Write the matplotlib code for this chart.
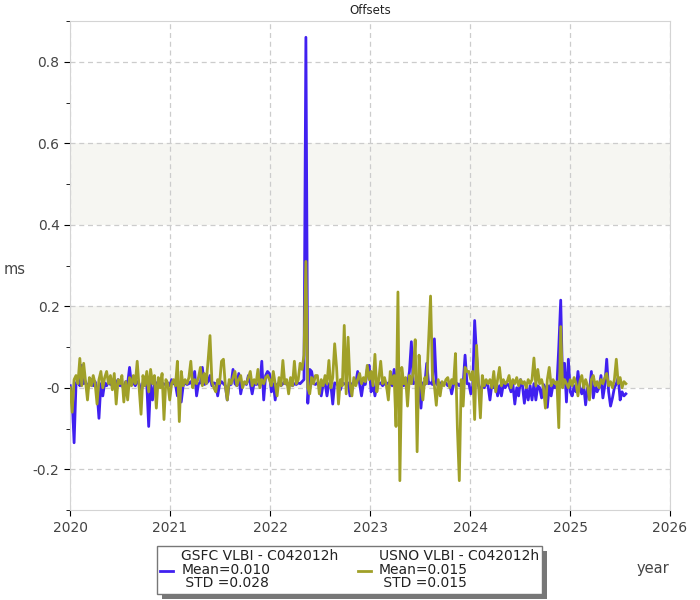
import numpy as np
import pandas as pd
import matplotlib
matplotlib.use("Agg")
import matplotlib.pyplot as plt
from matplotlib.patches import Rectangle
from matplotlib.ticker import FixedLocator, FixedFormatter

# weekly offsets (ms), one list per year
gsfc_2020 = [0.005, -0.030, -0.135, 0.010, 0.020, 0.005, 0.055, 0.010, 0.015, 0.000,
             0.012, 0.020, 0.005, 0.015, -0.010, -0.075, 0.010, -0.020, 0.012, 0.005,
             0.015, 0.008, 0.010, 0.000, 0.012, 0.020, 0.005, 0.010, -0.005, 0.015,
             0.010, 0.050, 0.008, 0.012, 0.005, 0.015, 0.010, -0.010, 0.012, 0.005,
             0.010, -0.095, 0.012, -0.030, 0.008, 0.010, 0.015, 0.005, 0.012, 0.008,
             0.010, 0.012]
gsfc_2021 = [0.005, 0.020, 0.010, 0.008, -0.020, 0.010, -0.035, 0.005, 0.012, 0.008,
             0.010, 0.015, 0.005, 0.040, -0.020, 0.010, 0.012, 0.050, 0.008, 0.010,
             0.015, 0.030, 0.005, 0.012, 0.010, -0.020, 0.008, 0.015, 0.010, 0.005,
             -0.030, 0.012, 0.008, 0.045, 0.010, 0.005, 0.035, -0.015, 0.010, 0.012,
             0.008, 0.030, 0.010, -0.015, 0.012, 0.008, 0.010, 0.005, 0.065, -0.030,
             0.030, 0.040]
gsfc_2022 = [0.035, -0.010, 0.010, -0.030, 0.008, 0.012, 0.005, 0.010, 0.015, 0.008,
             0.010, 0.012, 0.005, 0.010, 0.008, 0.012, 0.010, 0.015, 0.020, 0.860,
             -0.038, 0.045, 0.040, 0.010, 0.008, 0.012, 0.010, -0.020, 0.008, 0.012,
             -0.020, 0.010, 0.008, -0.040, 0.012, 0.010, 0.005, -0.005, 0.012, 0.010,
             0.008, 0.012, -0.020, 0.010, 0.008, 0.012, 0.040, 0.010, -0.020, 0.012,
             0.008, 0.045]
gsfc_2023 = [0.055, -0.010, 0.012, -0.020, 0.008, 0.010, 0.012, 0.005, 0.010, 0.008,
             0.012, 0.010, 0.005, 0.045, 0.010, 0.008, 0.012, 0.010, 0.005, 0.012,
             0.008, 0.040, 0.113, 0.010, 0.012, 0.008, 0.010, -0.050, 0.012, 0.008,
             0.060, 0.010, 0.012, 0.008, 0.120, 0.010, 0.005, 0.012, 0.008, 0.010,
             0.012, 0.005, 0.010, -0.015, 0.008, 0.012, 0.010, 0.005, 0.012, 0.008,
             0.080, 0.010]
gsfc_2024 = [0.010, -0.015, 0.005, 0.165, 0.080, 0.005, -0.010, 0.008, 0.000, 0.010,
             0.005, -0.030, 0.008, 0.000, 0.010, -0.020, 0.005, -0.020, 0.008, 0.000,
             0.010, 0.005, -0.010, 0.008, -0.040, 0.000, -0.020, 0.020, 0.005, -0.038,
             0.000, -0.030, 0.005, -0.030, 0.010, -0.030, 0.005, 0.000, -0.025, 0.008,
             0.000, -0.048, 0.005, -0.020, 0.008, 0.000, 0.005, 0.100, 0.215, 0.005,
             0.060, -0.035]
gsfc_2025 = [0.070, -0.010, -0.020, 0.005, -0.010, 0.040, 0.000, -0.015, 0.005, -0.042,
             0.000, -0.010, 0.040, -0.025, 0.005, -0.010, 0.000, 0.030, -0.025, 0.005,
             0.070, -0.010, -0.045, -0.025, 0.000, 0.010, 0.025, -0.030, -0.010, -0.020,
             -0.015]

usno_2020 = [0.000, -0.060, 0.020, 0.030, 0.010, 0.072, 0.005, 0.060, 0.015, -0.030,
             0.025, 0.005, 0.030, 0.010, -0.040, 0.020, 0.040, 0.000, 0.025, 0.040,
             0.010, 0.030, -0.005, 0.035, -0.040, 0.020, 0.010, 0.030, -0.035, 0.015,
             -0.030, 0.025, 0.005, 0.030, 0.010, 0.065, 0.000, -0.065, 0.030, 0.005,
             0.040, -0.010, 0.045, 0.010, 0.030, -0.050, 0.025, 0.000, 0.035, -0.078,
             0.020, 0.010]
usno_2021 = [-0.030, 0.010, 0.020, 0.005, 0.065, -0.083, 0.040, 0.005, 0.020, 0.010,
             0.025, 0.065, 0.000, 0.020, 0.010, 0.025, 0.050, 0.005, 0.035, 0.010,
             0.067, 0.128, 0.015, 0.000, -0.010, 0.020, 0.010, 0.065, 0.070, 0.005,
             -0.030, 0.020, 0.010, 0.025, 0.040, 0.005, 0.020, 0.030, 0.000, 0.015,
             0.010, 0.025, 0.040, 0.005, 0.020, 0.010, 0.045, 0.000, 0.020, 0.010,
             0.025, 0.030]
usno_2022 = [0.020, 0.005, 0.040, 0.010, -0.020, 0.025, 0.005, 0.067, 0.010, 0.020,
             -0.015, 0.025, 0.005, 0.065, 0.010, 0.020, 0.060, 0.045, 0.080, 0.310,
             0.000, -0.015, 0.025, 0.010, 0.030, 0.030, -0.015, 0.020, 0.005, 0.030,
             0.010, 0.067, 0.000, 0.025, 0.108, 0.050, -0.040, 0.020, 0.005, 0.153,
             -0.015, 0.124, 0.010, -0.020, 0.025, 0.005, 0.020, 0.035, 0.010, 0.025,
             0.015, 0.055]
usno_2023 = [0.020, 0.040, 0.005, 0.082, -0.010, 0.020, 0.065, 0.010, 0.025, 0.005,
             -0.030, 0.040, 0.010, 0.030, -0.095, 0.235, -0.228, 0.050, 0.010, 0.025,
             -0.045, 0.030, 0.010, 0.040, 0.118, -0.157, 0.080, 0.010, -0.030, 0.025,
             0.010, 0.120, 0.225, 0.030, 0.005, -0.043, 0.020, -0.020, 0.015, 0.005,
             0.020, 0.025, 0.000, 0.020, 0.010, 0.084, -0.100, -0.228, 0.020, -0.045,
             0.050, 0.040]
usno_2024 = [0.040, 0.020, 0.040, -0.078, 0.104, 0.010, -0.074, 0.030, 0.005, 0.020,
             0.010, 0.020, 0.000, 0.040, -0.010, 0.020, 0.050, 0.005, 0.020, 0.010,
             0.015, 0.030, 0.000, 0.020, 0.010, 0.025, 0.005, 0.020, 0.010, 0.015,
             0.000, 0.020, 0.010, 0.020, 0.073, 0.005, 0.045, 0.010, 0.020, 0.000,
             -0.050, 0.020, 0.050, 0.005, 0.020, 0.010, 0.015, -0.098, 0.150, 0.000,
             0.020, 0.010]
usno_2025 = [0.000, 0.020, 0.005, 0.025, 0.010, -0.020, 0.015, 0.030, 0.000, 0.020,
             0.005, -0.030, 0.020, 0.030, 0.005, 0.015, 0.000, 0.020, 0.010, 0.025,
             0.035, 0.005, 0.015, 0.000, 0.020, 0.070, 0.010, 0.025, 0.000, 0.015,
             0.010]

labels = ["GSFC VLBI - C042012h\nMean=0.010\n STD =0.028",
          "USNO VLBI - C042012h\nMean=0.015\n STD =0.015"]
colors = ["#4020f0", "#a0a028"]

gsfc = np.concatenate([gsfc_2020, gsfc_2021, gsfc_2022, gsfc_2023, gsfc_2024, gsfc_2025])
usno = np.concatenate([usno_2020, usno_2021, usno_2022, usno_2023, usno_2024, usno_2025])


def decimal_year(n):
    d = pd.date_range("2020-01-02", periods=n, freq="7D")
    days = np.where(d.is_leap_year, 366.0, 365.0)
    return (d.year + (d.dayofyear - 1) / days).to_numpy()


plt.rcParams["font.family"] = ["DejaVu Sans"]
fig = plt.figure(figsize=(7, 6), dpi=100)
ax = fig.add_axes([70 / 700, 1 - 510 / 600, 600 / 700, 489 / 600])

ax.axhspan(0, 0.2, color="#f6f6f2", zorder=0, lw=0)
ax.axhspan(0.4, 0.6, color="#f6f6f2", zorder=0, lw=0)

l1, = ax.plot(decimal_year(len(gsfc)), gsfc, color=colors[0], lw=2.0, zorder=3)
l2, = ax.plot(decimal_year(len(usno)), usno, color=colors[1], lw=2.0, zorder=4)

ax.set_xlim(2020, 2026)
ax.set_ylim(-0.3, 0.9)
years = list(range(2020, 2027))
ax.xaxis.set_major_locator(FixedLocator(years))
ax.xaxis.set_major_formatter(FixedFormatter([str(y) for y in years]))
yt = [-0.2, 0.0, 0.2, 0.4, 0.6, 0.8]
ax.yaxis.set_major_locator(FixedLocator(yt))
ax.yaxis.set_major_formatter(FixedFormatter(["-0.2", "-0", "0.2", "0.4", "0.6", "0.8"]))
ax.yaxis.set_minor_locator(FixedLocator([-0.3, -0.1, 0.1, 0.3, 0.5, 0.7, 0.9]))

ax.grid(True, which="major", color="#cccccc", ls=(0, (4, 3)), lw=0.9)
ax.set_axisbelow(True)
for s in ax.spines.values():
    s.set_color("#d4d4d4")
ax.tick_params(axis="both", which="major", length=4, color="black",
               labelsize=10, labelcolor="#444444")
ax.tick_params(axis="y", which="minor", length=3, color="black")
ax.tick_params(axis="x", pad=4)

ax.set_title("Offsets", fontsize=8.5, pad=5, color="#222222")
fig.text(15 / 700, 1 - 270 / 600, "ms", fontsize=10.5, color="#444444",
         ha="center", va="center")
fig.text(653 / 700, 1 - 569 / 600, "year", fontsize=10.5, color="#444444",
         ha="center", va="center")

leg = fig.legend([l1, l2], labels, ncol=2, loc="upper left",
                 bbox_to_anchor=(157 / 700, 1 - 546 / 600), fontsize=10,
                 frameon=True, fancybox=False, framealpha=1.0, handlelength=0.9,
                 handletextpad=0.6, columnspacing=1.4, borderpad=0.25,
                 borderaxespad=0)
leg.get_frame().set_edgecolor("#777777")
leg.get_frame().set_facecolor("white")
leg.get_frame().set_linewidth(1.0)
for t in leg.get_texts():
    t.set_color("#222222")
    t.set_linespacing(0.95)
for h in leg.legend_handles:
    h.set_linewidth(2.0)

fig.canvas.draw()
bb = leg.get_window_extent()
fig.patches.append(Rectangle((bb.x0 + 5, bb.y0 - 5), bb.width, bb.height,
                             transform=None, facecolor="#777777", edgecolor="none",
                             zorder=1, figure=fig))

fig.savefig("out.png", dpi=100)
